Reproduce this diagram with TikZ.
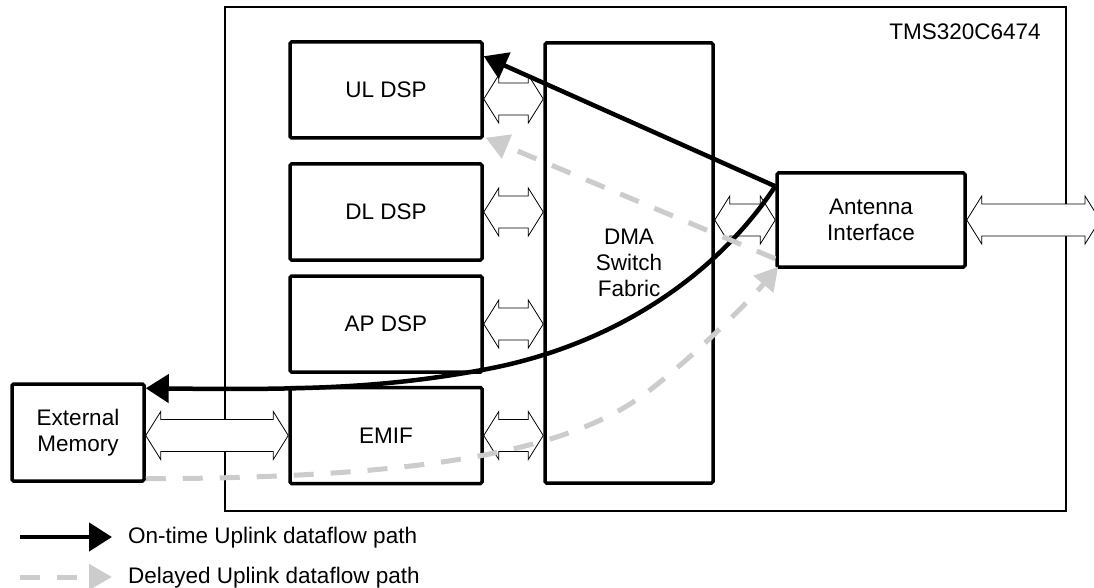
\documentclass[tikz,border=0pt]{standalone}
\usepackage{fontspec}
\setmainfont{Liberation Sans}
\usetikzlibrary{arrows.meta,calc}
\definecolor{lgray}{RGB}{204,204,204}
\newcommand\hollowarrow[2]{%
  \path[hollow] let \p1=#1, \p2=#2, \n1={\x2-\x1} in
  (\x1,\y1) -- ++(15pt,24pt) -- ++(0pt,-8pt) -- ++({\n1-30pt},0pt) -- ++(0pt,8pt)
  -- (\x2,\y1) -- ++(-15pt,-24pt) -- ++(0pt,8pt) -- ++({30pt-\n1},0pt) -- ++(0pt,-8pt) -- cycle;}
\begin{document}
\begin{tikzpicture}[x=1pt,y=-1pt, font=\fontsize{22.5pt}{26pt}\selectfont,
  box/.style={draw, line width=3.5pt, fill=white, rounded corners=1.5pt, inner sep=0pt, align=center},
  chip/.style={draw, line width=1.8pt, inner sep=0pt},
  hollow/.style={draw=black, fill=white, line width=0.8pt, line join=miter},
  ontime/.style={line width=4.5pt, -{Triangle[length=23pt,width=28pt]}},
  delayed/.style={line width=5pt, draw=lgray, dash pattern=on 20pt off 17pt, -{Triangle[length=23pt,width=25pt]}},
  legtext/.style={anchor=base west, inner sep=0pt}]
\useasboundingbox (0,0) rectangle (1094,588);
\clip (0,0) rectangle (1094,588);

\node[chip, minimum width=841pt, minimum height=504pt] (chip) at (645.5,259) {};
\node (label) at (965,32) {TMS320C6474};

\node[box, minimum width=192pt, minimum height=96pt] (ul) at (386,90) {UL DSP};
\node[box, minimum width=192pt, minimum height=96pt] (dl) at (386,212) {DL DSP};
\node[box, minimum width=192pt, minimum height=96pt] (ap) at (386,324) {AP DSP};
\node[box, minimum width=192pt, minimum height=96pt] (emif) at (386,435.5) {EMIF};
\node[box, minimum width=168pt, minimum height=440pt] (dma) at (629,263) {DMA\\Switch\\Fabric};
\node[box, minimum width=188pt, minimum height=94pt] (ant) at (871,220) {Antenna\\Interface};
\node[box, minimum width=132pt, minimum height=97pt] (mem) at (78,432.5) {External\\Memory};

\coordinate (ulr) at ([yshift=-9pt]ul.east);
\hollowarrow{(ulr)}{(dma.west|-ulr)}
\hollowarrow{(dl.east)}{(dma.west|-dl.east)}
\hollowarrow{(ap.east)}{(dma.west|-ap.east)}
\hollowarrow{(emif.east)}{(dma.west|-emif.east)}
\hollowarrow{(dma.east|-ant.west)}{(ant.west)}
\hollowarrow{(mem.east|-emif.west)}{(emif.west)}
\coordinate (offchip) at (1100,220);
\hollowarrow{(ant.east)}{(offchip)}

\coordinate (s1) at ([yshift=-15pt]ant.north west);
\draw[ontime] (s1) -- ([yshift=-16pt]ul.north east);
\draw[ontime] (s1) .. controls (720,270) and (620,345) .. (482,370)
  .. controls (380,388.5) and (300,390) .. ([yshift=-6pt]mem.north east);

\draw[delayed] ([yshift=10pt]ant.south west) -- ([xshift=2pt,yshift=2pt]ul.south east);
\draw[delayed] ([yshift=4pt]mem.south east) .. controls (450,478) and (580,445) .. (650,390)
  .. controls (700,351) and (750,300) .. ([xshift=3pt,yshift=2pt]ant.south west);

\coordinate (l1a) at (20,537); \coordinate (l1b) at (112,537);
\coordinate (l2a) at (20,577); \coordinate (l2b) at (112,577);
\draw[ontime] (l1a) -- (l1b);
\draw[delayed] (l2a) -- (l2b);
\node[legtext] (t1) at (128,543) {On-time Uplink dataflow path};
\node[legtext] (t2) at (128,583) {Delayed Uplink dataflow path};
\end{tikzpicture}
\end{document}
